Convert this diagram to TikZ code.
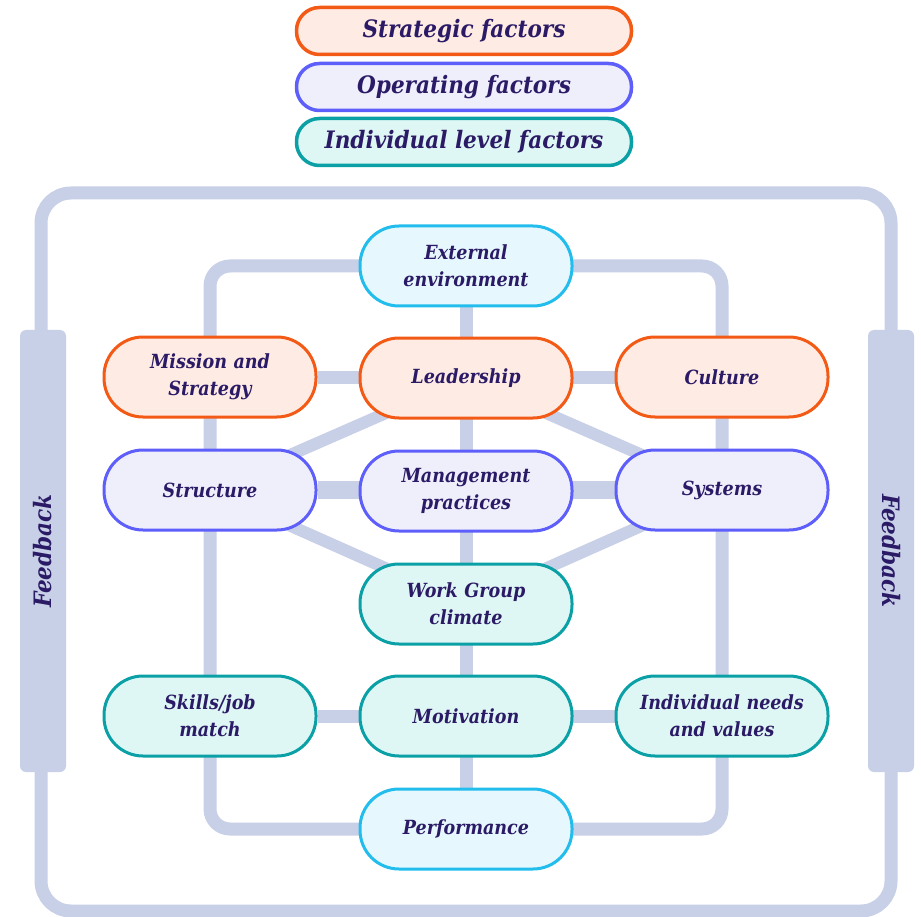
\documentclass[tikz,border=0pt]{standalone}
\usepackage{fontspec}
\setmainfont{DejaVu Serif Condensed}
\usetikzlibrary{backgrounds}

\definecolor{ink}{HTML}{2B1B66}
\definecolor{wire}{HTML}{C8D0E8}
\definecolor{stratline}{HTML}{F25A16}
\definecolor{stratfill}{HTML}{FEEBE4}
\definecolor{operline}{HTML}{5E5EFA}
\definecolor{operfill}{HTML}{EFEFFC}
\definecolor{indline}{HTML}{0AA0A6}
\definecolor{indfill}{HTML}{DFF7F4}
\definecolor{envline}{HTML}{22BDEC}
\definecolor{envfill}{HTML}{E6F8FD}

\begin{document}
\begin{tikzpicture}[x=1pt,y=-1pt,
    font=\fontsize{19.5}{27}\selectfont\bfseries\itshape, text=ink,
    factor/.style={draw, line width=3pt, rounded corners=39pt, minimum width=212pt,
      minimum height=80pt, align=center, text width=200pt},
    strat/.style={factor, draw=stratline, fill=stratfill},
    oper/.style={factor, draw=operline, fill=operfill},
    indiv/.style={factor, draw=indline, fill=indfill},
    env/.style={factor, draw=envline, fill=envfill},
    key/.style={draw, line width=3.5pt, rounded corners=23pt, minimum width=335pt,
      minimum height=47pt, font=\fontsize{24}{28}\selectfont\bfseries\itshape},
    link/.style={draw=wire, line width=13pt},
    bar/.style={fill=wire, rounded corners=6pt, minimum width=442pt, minimum height=46pt,
      font=\fontsize{24}{28}\selectfont\bfseries\itshape}]
  \useasboundingbox (0,0) rectangle (921,917);

  % key
  \node[key, draw=stratline, fill=stratfill] (kstrat) at (464,31) {Strategic factors};
  \node[key, draw=operline, fill=operfill] (koper) at (464,87) {Operating factors};
  \node[key, draw=indline, fill=indfill] (kind) at (464,142) {Individual level factors};

  % outer feedback loop
  \draw[wire, line width=13pt, rounded corners=30pt] (41,193) rectangle (891,911);
  \node[bar, rotate=90] (fbleft) at (43,551) {Feedback};
  \node[bar, rotate=-90] (fbright) at (891,551) {Feedback};

  % factors
  \node[env] (ext) at (466,266) {External\\environment};
  \node[strat] (mission) at (210,377) {Mission and\\Strategy};
  \node[strat] (lead) at (466,378) {Leadership};
  \node[strat] (culture) at (722,377) {Culture};
  \node[oper] (struct) at (210,490) {Structure};
  \node[oper] (mgmt) at (466,491) {Management\\practices};
  \node[oper] (sys) at (722,490) {Systems};
  \node[indiv] (climate) at (466,604) {Work Group\\climate};
  \node[indiv] (skills) at (210,716) {Skills/job\\match};
  \node[indiv] (motiv) at (466,716) {Motivation};
  \node[indiv] (needs) at (722,716) {Individual needs\\and values};
  \node[env] (perf) at (466,829) {Performance};

  \begin{scope}[on background layer]
    \draw[link, rounded corners=20pt] (ext.center) -| (mission.center) -- (skills.center) |- (perf.center);
    \draw[link, rounded corners=20pt] (ext.center) -| (culture.center) -- (needs.center) |- (perf.center);
    \draw[link] (ext) -- (perf);
    \draw[link] (mission) -- (culture);
    \draw[link, line width=18pt] (struct) -- (sys);
    \draw[link] (skills) -- (needs);
    \draw[link, line width=12pt] (lead.center) -- (struct.center) -- (climate.center) -- (sys.center) -- cycle;
  \end{scope}
\end{tikzpicture}
\end{document}
